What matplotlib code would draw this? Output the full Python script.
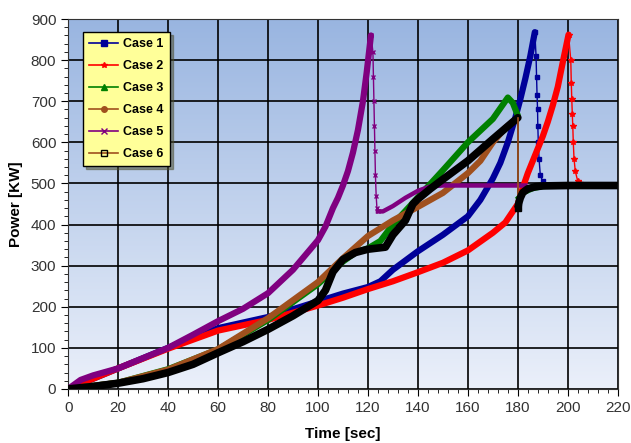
import numpy as np
import matplotlib.pyplot as plt
from matplotlib.lines import Line2D
from matplotlib.ticker import MultipleLocator

plt.rcParams["font.family"] = ["Liberation Sans", "DejaVu Sans"]

# Case 1 (blue)
c1_t = [0, 20, 40, 60, 80, 100, 110, 120, 125, 130, 140, 150, 160, 165, 170, 173, 176, 179, 181, 183, 185, 186.8]
c1_p = [0, 50, 100, 148, 175, 213, 232, 248, 262, 290, 335, 375, 420, 460, 512, 550, 600, 660, 705, 755, 810, 868]
c1_drop_t = [186.8, 187.3, 187.5, 187.7, 187.9, 188.0, 188.2, 188.5, 189, 190, 192]
c1_drop_p = [868, 810, 760, 715, 680, 640, 600, 560, 520, 505, 497]

# Case 2 (red)
c2_t = [0, 20, 40, 60, 80, 100, 110, 120, 130, 140, 150, 160, 170, 175, 180, 182, 184, 186, 188, 190, 192, 194, 196, 198, 200.3]
c2_p = [0, 50, 98, 142, 168, 203, 222, 243, 262, 284, 307, 337, 380, 405, 450, 490, 525, 555, 585, 615, 650, 690, 735, 795, 862]
c2_drop_t = [200.3, 201.2, 201.4, 201.6, 201.8, 202.0, 202.2, 202.5, 203, 204, 205]
c2_drop_p = [862, 800, 745, 705, 670, 640, 600, 560, 530, 505, 500]

# Case 3 (green)
c3_t = [0, 20, 40, 60, 80, 100, 110, 115, 120, 125, 130, 140, 150, 160, 170, 176, 178, 180]
c3_p = [0, 15, 48, 96, 168, 255, 310, 332, 342, 360, 400, 466, 532, 600, 657, 709, 696, 665]
c3_end_t = [180, 180.5, 183, 186, 190, 194]
c3_end_p = [465, 468, 478, 486, 491, 493]

# Case 4 (brown)
c4_t = [0, 20, 40, 60, 80, 100, 110, 120, 130, 140, 150, 160, 165, 170, 175, 180]
c4_p = [0, 15, 47, 97, 172, 260, 318, 372, 410, 443, 477, 525, 555, 600, 635, 660]

# Case 5 (purple)
c5_t = [0, 5, 10, 20, 30, 40, 50, 60, 70, 80, 90, 100, 103, 106, 108, 110, 112, 114, 116, 118, 119.5, 121.2]
c5_p = [0, 22, 33, 50, 75, 100, 132, 165, 195, 233, 290, 362, 395, 440, 465, 495, 530, 575, 630, 700, 770, 860]
c5_drop_t = [121.2, 122.0, 122.2, 122.4, 122.6, 122.8, 123.0, 123.3, 123.6, 124]
c5_drop_p = [860, 820, 760, 700, 640, 580, 520, 470, 440, 432]
c5_end_t = [124, 126, 130, 135, 140, 145, 150, 183]
c5_end_p = [432, 432, 445, 465, 482, 493, 495, 495]

# Case 6 (black)
c6_t = [0, 10, 20, 30, 40, 50, 60, 70, 80, 90, 100, 103, 106, 110, 115, 120, 127, 130, 135, 138, 140, 145, 150, 160, 170, 180]
c6_p = [0, 6, 14, 25, 40, 60, 88, 115, 145, 178, 215, 240, 285, 315, 332, 340, 345, 375, 410, 450, 462, 487, 510, 555, 608, 660]
c6_drop_t = [180, 180]
c6_drop_p = [660, 440]
c6_end_t = [180, 180.5, 181, 182, 184, 187, 190, 200, 220]
c6_end_p = [440, 455, 465, 478, 487, 492, 494, 495, 495]

names = ["Case 1", "Case 2", "Case 3", "Case 4", "Case 5", "Case 6"]

blue = "#000099"
red = "#ff0000"
green = "#008000"
brown = "#a0501e"
purple = "#800080"

fig = plt.figure(figsize=(6.31, 4.43), dpi=100)
ax = fig.add_axes([0.108, 0.122, 0.871, 0.835])

# gradient background
grad = np.linspace(0, 1, 256).reshape(-1, 1)
top = np.array([0.60, 0.71, 0.88])
bot = np.array([0.92, 0.94, 0.98])
img = top[None, None, :] * (1 - grad[:, :, None]) + bot[None, None, :] * grad[:, :, None]
ax.imshow(img, extent=[0, 220, 0, 900], aspect="auto", zorder=0, origin="upper")

lw = 4.5
ax.plot(c1_t, c1_p, color=blue, lw=lw, zorder=3, solid_capstyle="round")
ax.plot(c1_drop_t, c1_drop_p, color=blue, lw=1, marker="s", ms=3.5, zorder=3)

ax.plot(c2_t, c2_p, color=red, lw=lw, zorder=3, solid_capstyle="round")
ax.plot(c2_drop_t, c2_drop_p, color=red, lw=1, marker="*", ms=4, zorder=3)

ax.plot(c3_t, c3_p, color=green, lw=lw, zorder=3, solid_capstyle="round")
ax.plot(c3_end_t, c3_end_p, color=green, lw=3, zorder=3)

ax.plot(c4_t, c4_p, color=brown, lw=lw, zorder=3, solid_capstyle="round")

ax.plot(c5_t, c5_p, color=purple, lw=lw, zorder=3, solid_capstyle="round")
ax.plot(c5_drop_t, c5_drop_p, color=purple, lw=1, marker="x", ms=3.5, zorder=3)
ax.plot(c5_end_t, c5_end_p, color=purple, lw=3.2, zorder=3)

ax.plot(c6_t, c6_p, color="black", lw=lw + 1, zorder=4, solid_capstyle="round")
ax.plot(c6_drop_t, c6_drop_p, color=brown, lw=1.2, zorder=4)
ax.plot(c6_end_t, c6_end_p, color="black", lw=lw + 1, zorder=4, solid_capstyle="butt")
ax.plot([180], [440], marker="s", color="black", ms=5, zorder=4)

ax.set_xlim(0, 220)
ax.set_ylim(0, 900)
ax.xaxis.set_major_locator(MultipleLocator(20))
ax.xaxis.set_minor_locator(MultipleLocator(4))
ax.yaxis.set_major_locator(MultipleLocator(100))
ax.yaxis.set_minor_locator(MultipleLocator(20))
ax.grid(True, which="major", color="black", lw=1.2, zorder=1)
ax.set_axisbelow(True)
ax.tick_params(which="major", length=5, labelsize=11, labelcolor="#333333")
ax.tick_params(which="minor", length=3)
for s in ax.spines.values():
    s.set_color("#333333")

ax.set_xlabel("Time [sec]", fontsize=11, fontweight="bold", labelpad=9)
ax.set_ylabel("Power [KW]", fontsize=11, fontweight="bold", labelpad=6)

handles = [
    Line2D([], [], color=blue, marker="s", ms=4, lw=1.2),
    Line2D([], [], color=red, marker="*", ms=4, lw=1.2),
    Line2D([], [], color=green, marker="^", ms=4, lw=1.2),
    Line2D([], [], color=brown, marker="o", ms=4, lw=1.2),
    Line2D([], [], color=purple, marker="x", ms=4, lw=1.2),
    Line2D([], [], color=brown, marker="s", ms=4, lw=1.2, mfc="none", mec="black"),
]
leg = ax.legend(handles, names, loc="upper left", bbox_to_anchor=(0.027, 0.965),
                prop={"size": 9, "weight": "bold"}, frameon=True, fancybox=False, shadow=True,
                handlelength=2.3, handletextpad=0.4, labelspacing=0.8, borderpad=0.5,
                borderaxespad=0)
leg.get_frame().set_facecolor("#ffff99")
leg.get_frame().set_edgecolor("black")
leg.get_frame().set_alpha(1)
leg.set_zorder(10)

fig.savefig("out.png", dpi=100)
